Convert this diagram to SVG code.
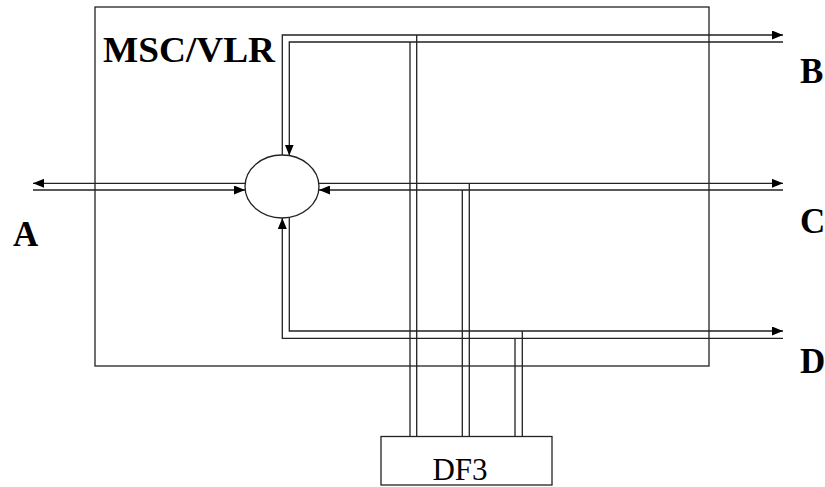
<svg xmlns="http://www.w3.org/2000/svg" width="825" height="487" viewBox="0 0 825 487">
<style>
.ln{fill:none;stroke:#222;stroke-width:1.3}
.bx{fill:#fff;stroke:#222;stroke-width:1.3}
.lbl{font-weight:bold;font-size:35px;fill:#000}
.df{font-size:31px;fill:#000}
</style>
<defs>
<marker id="ah" markerUnits="userSpaceOnUse" markerWidth="11" markerHeight="9" refX="11" refY="4.5" orient="auto" viewBox="0 0 11 9">
<path d="M0,0 L11,4.5 L0,9 z" fill="#000"/>
</marker>
</defs>
<g id="msc">
<rect class="bx" x="95" y="7" width="614" height="359"/>
<text class="lbl" font-family="'Liberation Serif', 'DejaVu Serif', serif" x="103" y="62" textLength="172" lengthAdjust="spacingAndGlyphs">MSC/VLR</text>
</g>
<g id="labels" font-family="'Liberation Serif', 'DejaVu Serif', serif">
<text class="lbl" x="13" y="246">A</text>
<text class="lbl" x="800" y="83">B</text>
<text class="lbl" x="800" y="233">C</text>
<text class="lbl" x="800" y="373">D</text>
</g>
<g id="connectors">
<path class="ln" d="M245,183.3 H33" marker-end="url(#ah)"/>
<path class="ln" d="M33,190 H245" marker-end="url(#ah)"/>
<path class="ln" d="M282.3,155 V35 H783" marker-end="url(#ah)"/>
<path class="ln" d="M783,42 H289.3 V155.5" marker-end="url(#ah)"/>
<path class="ln" d="M319,183.3 H783" marker-end="url(#ah)"/>
<path class="ln" d="M783,190 H319" marker-end="url(#ah)"/>
<path class="ln" d="M289.3,217.5 V331 H783" marker-end="url(#ah)"/>
<path class="ln" d="M783,338.3 H282.3 V218" marker-end="url(#ah)"/>
<path class="ln" d="M416.7,35 V436.5 M410,42 V436.5"/>
<path class="ln" d="M469.3,183.3 V436.5 M462.3,190 V436.5"/>
<path class="ln" d="M522.3,331 V436.5 M515,338.3 V436.5"/>
</g>
<g id="switch">
<ellipse class="bx" cx="282" cy="186.5" rx="37" ry="31.5"/>
</g>
<g id="df3">
<rect class="bx" x="381" y="436.5" width="171" height="48.5"/>
<text class="df" font-family="'Liberation Serif', 'DejaVu Serif', serif" x="460" y="480" text-anchor="middle">DF3</text>
</g>
</svg>
